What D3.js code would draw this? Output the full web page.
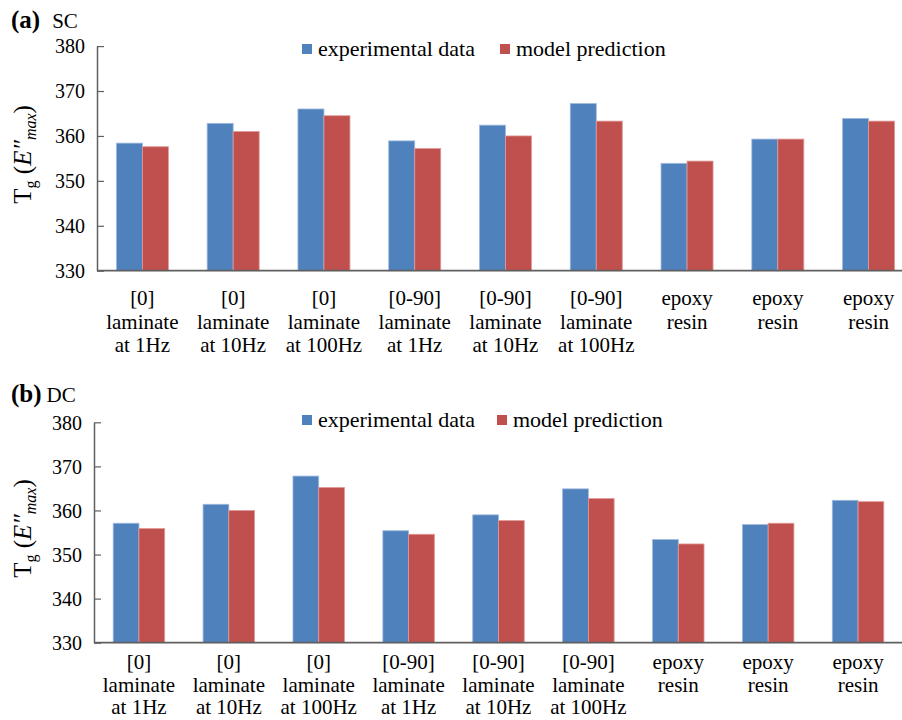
<!DOCTYPE html>
<html>
<head>
<meta charset="utf-8">
<script src="https://cdn.jsdelivr.net/npm/d3@7"></script>
<style>
  html, body { margin: 0; padding: 0; background: #fff; }
  svg, svg text, svg tspan { font-family: 'Liberation Serif', 'Times New Roman', Times, serif !important; }
</style>
</head>
<body>
<svg id="chart" width="902" height="720"></svg>
<script>
// ---- data ----
const categories = [
  ["[0]", "laminate", "at 1Hz"],
  ["[0]", "laminate", "at 10Hz"],
  ["[0]", "laminate", "at 100Hz"],
  ["[0-90]", "laminate", "at 1Hz"],
  ["[0-90]", "laminate", "at 10Hz"],
  ["[0-90]", "laminate", "at 100Hz"],
  ["epoxy", "resin"],
  ["epoxy", "resin"],
  ["epoxy", "resin"]
];
const seriesNames = ["experimental data", "model prediction"];
const scExperimental = [358.4, 362.8, 366.0, 358.9, 362.4, 367.2, 353.9, 359.3, 363.9];
const scModel        = [357.6, 361.0, 364.5, 357.2, 360.0, 363.3, 354.4, 359.3, 363.3];
const dcExperimental = [357.1, 361.4, 367.8, 355.4, 359.0, 364.9, 353.4, 356.8, 362.3];
const dcModel        = [355.9, 360.0, 365.2, 354.6, 357.7, 362.7, 352.4, 357.1, 362.0];
const yTicks = [330, 340, 350, 360, 370, 380];
const yDomain = [330, 380];

// ---- styles ----
const FONT = "'Liberation Serif', 'Times New Roman', Times, serif";
const colors = ["#4F81BD", "#C0504D"];
const strokes = ["#9db9de", "#e09a98"];
const axisColor = "#5f5f5f";

const svg = d3.select("#chart");

function panel(cfg) {
  const g = svg.append("g").style("font-family", FONT);
  const idx = d3.range(categories.length);
  const x = d3.scaleBand().domain(idx).range([cfg.x0, cfg.x1]).paddingInner(0.427).paddingOuter(0.2135);
  const x1 = d3.scaleBand().domain([0, 1]).range([0, x.bandwidth()]);
  const y = d3.scaleLinear().domain(yDomain).range([cfg.yBase, cfg.yTop]);

  // bars
  const series = [cfg.exp, cfg.model];
  series.forEach((vals, s) => {
    g.append("g").selectAll("rect").data(vals).join("rect")
      .attr("x", (d, i) => x(i) + x1(s))
      .attr("width", x1.bandwidth())
      .attr("y", d => y(d))
      .attr("height", d => y(yDomain[0]) - y(d))
      .attr("fill", colors[s])
      .attr("stroke", strokes[s])
      .attr("stroke-width", 0.8);
  });

  // y axis
  const yAxis = d3.axisLeft(y).tickValues(yTicks).tickSizeInner(-7).tickSizeOuter(0).tickPadding(12);
  const ya = g.append("g").attr("transform", `translate(${cfg.x0},0)`).call(yAxis)
    .attr("font-family", null);
  ya.select(".domain").attr("stroke", axisColor).attr("stroke-width", 1.5);
  ya.selectAll(".tick line").attr("stroke", axisColor).attr("stroke-width", 1.2);
  ya.selectAll(".tick text")
    .style("font-family", FONT)
    .attr("font-size", 20).attr("fill", "#000").attr("dy", "0.34em");

  // baseline
  g.append("line")
    .attr("x1", cfg.x0).attr("x2", 902)
    .attr("y1", y(yDomain[0])).attr("y2", y(yDomain[0]))
    .attr("stroke", axisColor).attr("stroke-width", 1.8);

  // x labels
  const lab = g.append("g").selectAll("text").data(categories).join("text")
    .attr("x", (d, i) => x(i) + x.bandwidth() / 2)
    .attr("y", cfg.labelY)
    .attr("text-anchor", "middle")
    .attr("font-size", 21)
    .attr("fill", "#000");
  lab.selectAll("tspan").data(d => d).join("tspan")
    .attr("x", function () { return d3.select(this.parentNode).attr("x"); })
    .attr("dy", (d, i) => i === 0 ? 0 : cfg.lineGap)
    .text(d => d);

  // panel label
  const pl = g.append("text").attr("x", 11).attr("y", cfg.panelY).attr("fill", "#000");
  pl.append("tspan").attr("font-weight", "bold").attr("font-size", 25).text(cfg.letter);
  pl.append("tspan").attr("font-size", 21).attr("dx", cfg.letterGap).text(cfg.title);

  // legend
  const lg = g.append("g");
  cfg.legend.forEach((lx, s) => {
    lg.append("rect").attr("x", lx).attr("y", cfg.legendY - 6).attr("width", 10).attr("height", 10)
      .attr("fill", colors[s]);
    lg.append("text").attr("x", lx + 16).attr("y", cfg.legendY + 6)
      .attr("font-size", 22).attr("fill", "#000").text(seriesNames[s]);
  });

  // y-axis title
  const yc = (cfg.yTop + cfg.yBase) / 2 - 4;
  const t = g.append("text")
    .attr("transform", `translate(31,${yc}) rotate(-90)`)
    .attr("text-anchor", "middle")
    .attr("font-size", 25).attr("fill", "#000");
  t.append("tspan").text("T");
  t.append("tspan").attr("font-size", 16).attr("dy", 5).text("g");
  t.append("tspan").attr("dy", -5).text(" (");
  t.append("tspan").attr("font-style", "italic").text("E\u2033");
  t.append("tspan").attr("font-style", "italic").attr("font-size", 16).attr("dy", 5).text("max");
  t.append("tspan").attr("dy", -5).text(")");
}

panel({
  x0: 97, x1: 914, yTop: 46.1, yBase: 270.7, labelY: 305, lineGap: 23.5,
  exp: scExperimental, model: scModel,
  letter: "(a)", title: "SC", panelY: 28, letterGap: 12,
  legend: [302, 500], legendY: 50
});
panel({
  x0: 94, x1: 903, yTop: 422.3, yBase: 642.7, labelY: 669, lineGap: 22.5,
  exp: dcExperimental, model: dcModel,
  letter: "(b)", title: "DC", panelY: 402, letterGap: 5,
  legend: [302, 497], legendY: 421
});
</script>
</body>
</html>
